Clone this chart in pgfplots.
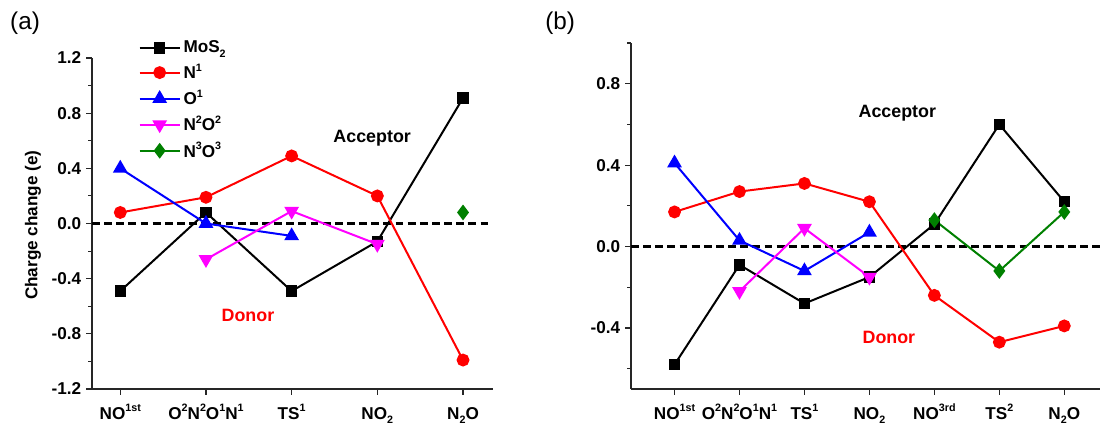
\documentclass[border=0pt]{standalone}
\usepackage{pgfplots}
\pgfplotsset{compat=1.18}
\usepackage{fontspec}
\setmainfont{Liberation Sans}
\definecolor{ogreen}{RGB}{0,128,0}
\definecolor{omag}{RGB}{255,0,255}
\definecolor{ored}{RGB}{255,0,0}
\definecolor{oblue}{RGB}{0,0,255}
\newcommand{\su}[1]{\raisebox{0.42em}{\fontsize{7.5}{8}\selectfont #1}}
\newcommand{\sd}[1]{\raisebox{-0.25em}{\fontsize{7.5}{8}\selectfont #1}}

\pgfplotsset{
  panel/.style={
    scale only axis, clip=false,
    axis x line*=bottom, axis y line*=left,
    axis line style={-, line width=0.8pt, black!85},
    tick align=outside, major tick length=4pt, minor tick length=2.5pt,
    tick style={line width=0.8pt, black!85},
    tick label style={font=\fontsize{12}{14}\selectfont\bfseries},
    /pgf/number format/assume math mode=true,
    yticklabel style={/pgf/number format/.cd, fixed, fixed zerofill, precision=1},
    xticklabel style={text height=10.5pt, text depth=3pt, yshift=-3pt},
  },
  mos/.style={black, line width=1.4pt, mark=square*, mark size=3.3pt},
  nA/.style={ored, line width=1.4pt, mark=*, mark size=3.8pt},
  oA/.style={oblue, line width=1.4pt, mark=triangle*, mark size=4.6pt},
  noB/.style={omag, line width=1.4pt, mark=triangle*, mark size=4.6pt, mark options={rotate=180}},
  noC/.style={ogreen, line width=1.4pt, mark=diamond*, mark size=4.4pt},
  zero/.style={black, line width=1.8pt, dash pattern=on 5.5pt off 3pt, mark=none, forget plot},
}

\begin{document}
\begin{tikzpicture}[font=\bfseries]
\useasboundingbox (-64.4pt,-25.9pt) rectangle (705.6pt,272.3pt);

% panel (a)
\begin{axis}[panel, at={(0pt,0pt)}, anchor=south west,
  width=280.7pt, height=231.7pt,
  xmin=-0.33, xmax=4.35, ymin=-1.2, ymax=1.2,
  xtick={0,1,2,3,4},
  xticklabels={NO\su{1st}, O\su{2}N\su{2}O\su{1}N\su{1}, TS\su{1}, NO\sd{2}, N\sd{2}O},
  ytick={-1.2,-0.8,-0.4,0,0.4,0.8,1.2},
  minor ytick={-1.0,-0.6,-0.2,0.2,0.6,1.0},
  ylabel={Charge change (e)},
  ylabel style={at={(rel axis cs:-0.147,0.495)}, anchor=center, font=\fontsize{12}{14}\selectfont\bfseries},
  legend style={draw=none, fill=none, at={(rel axis cs:0.105,1.07)}, anchor=north west,
    font=\fontsize{12}{14}\selectfont\bfseries, row sep=2.5pt},
  legend cell align=left,
  legend image code/.code={\draw[mark repeat=2, mark phase=2, #1] plot coordinates {(0pt,0pt) (14pt,0pt) (28pt,0pt)};},
]
\addplot[zero] coordinates {(-0.33,0) (4.32,0)};
\addplot[mos] coordinates {(0,-0.49) (1,0.08) (2,-0.49) (3,-0.13) (4,0.91)};
\addplot[nA] coordinates {(0,0.08) (1,0.19) (2,0.49) (3,0.20) (4,-0.99)};
\addplot[oA] coordinates {(0,0.40) (1,0.0) (2,-0.09)};
\addplot[noB] coordinates {(1,-0.26) (2,0.09) (3,-0.15)};
\addplot[noC] coordinates {(4,0.08)};
\legend{MoS\sd{2}, N\su{1}, O\su{1}, N\su{2}O\su{2}, N\su{3}O\su{3}}
\node[font=\fontsize{12.5}{14}\selectfont\bfseries] at (axis cs:2.94,0.62) {Acceptor};
\node[font=\fontsize{12.5}{14}\selectfont\bfseries, ored] at (axis cs:1.49,-0.67) {Donor};
\node[font=\fontsize{17}{19}\selectfont\mdseries] at (rel axis cs:-0.167,1.105) {(a)};
\end{axis}

% panel (b)
\begin{axis}[panel, at={(377.3pt,0pt)}, anchor=south west,
  width=328.3pt, height=242.2pt,
  xmin=-0.67, xmax=6.55, ymin=-0.7, ymax=1.0,
  xtick={0,1,2,3,4,5,6},
  xticklabels={NO\su{1st}, O\su{2}N\su{2}O\su{1}N\su{1}, TS\su{1}, NO\sd{2}, NO\su{3rd}, TS\su{2}, N\sd{2}O},
  ytick={-0.4,0,0.4,0.8},
  minor ytick={-0.6,-0.2,0.2,0.6,1.0},
]
\addplot[zero] coordinates {(-0.67,0) (6.55,0)};
\addplot[mos] coordinates {(0,-0.58) (1,-0.09) (2,-0.28) (3,-0.15) (4,0.11) (5,0.60) (6,0.22)};
\addplot[nA] coordinates {(0,0.17) (1,0.27) (2,0.31) (3,0.22) (4,-0.24) (5,-0.47) (6,-0.39)};
\addplot[oA] coordinates {(0,0.41) (1,0.03) (2,-0.12) (3,0.07)};
\addplot[noB] coordinates {(1,-0.22) (2,0.09) (3,-0.15)};
\addplot[noC] coordinates {(4,0.13) (5,-0.12) (6,0.17)};
\node[font=\fontsize{12.5}{14}\selectfont\bfseries] at (axis cs:3.43,0.653) {Acceptor};
\node[font=\fontsize{12.5}{14}\selectfont\bfseries, ored] at (axis cs:3.30,-0.447) {Donor};
\node[font=\fontsize{17}{19}\selectfont\mdseries] at (rel axis cs:-0.151,1.058) {(b)};
\end{axis}
\end{tikzpicture}
\end{document}
